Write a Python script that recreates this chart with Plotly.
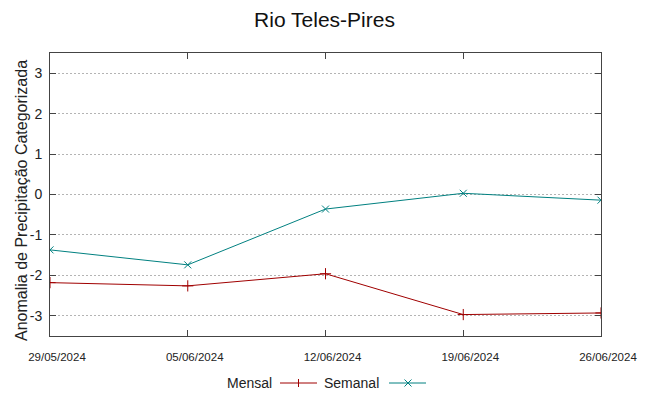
import plotly.graph_objects as go

dates = ["2024-05-29", "2024-06-05", "2024-06-12", "2024-06-19", "2024-06-26"]
mensal = [-2.18, -2.26, -1.96, -2.97, -2.93]
semanal = [-1.37, -1.74, -0.36, 0.03, -0.14]
tick_vals = ["2024-05-29", "2024-06-05", "2024-06-12", "2024-06-19", "2024-06-26"]
tick_text = ["29/05/2024", "05/06/2024", "12/06/2024", "19/06/2024", "26/06/2024"]
y_ticks = [-3, -2, -1, 0, 1, 2, 3]
y_tick_text = ["-3", "-2", "-1", "0", "1", "2", "3"]
series_names = ["Mensal", "Semanal"]

RED = "#a00000"
TEAL = "#008080"
AXIS = "#444444"
FONT = "Liberation Sans, Arial, sans-serif"

W, H = 649, 396
ML, MR, MT, MB = 50, 48, 53, 60
PW, PH = W - ML - MR, H - MT - MB


def px(x):
    return (x - ML) / PW


def py(y):
    return (H - MB - y) / PH


fig = go.Figure()
fig.add_trace(go.Scatter(
    x=dates, y=mensal, name=series_names[0], mode="lines+markers",
    line=dict(color=RED, width=1),
    marker=dict(symbol="cross-thin", size=8, line=dict(color=RED, width=1)),
))
fig.add_trace(go.Scatter(
    x=dates, y=semanal, name=series_names[1], mode="lines+markers",
    line=dict(color=TEAL, width=1),
    marker=dict(symbol="x-thin", size=7, line=dict(color=TEAL, width=1)),
))

# custom legend (text before sample, gnuplot style)
ly = 383
shapes = [
    dict(type="line", xref="paper", yref="paper", x0=px(280), x1=px(317), y0=py(ly), y1=py(ly),
         line=dict(color=RED, width=1)),
    dict(type="line", xref="paper", yref="paper", x0=px(298.5), x1=px(298.5), y0=py(ly - 4), y1=py(ly + 4),
         line=dict(color=RED, width=1)),
    dict(type="line", xref="paper", yref="paper", x0=px(389), x1=px(426), y0=py(ly), y1=py(ly),
         line=dict(color=TEAL, width=1)),
    dict(type="line", xref="paper", yref="paper", x0=px(404.5), x1=px(411.5), y0=py(ly - 3.5), y1=py(ly + 3.5),
         line=dict(color=TEAL, width=1)),
    dict(type="line", xref="paper", yref="paper", x0=px(404.5), x1=px(411.5), y0=py(ly + 3.5), y1=py(ly - 3.5),
         line=dict(color=TEAL, width=1)),
]
annotations = [
    dict(text=series_names[0], xref="paper", yref="paper", x=px(274), y=py(ly), xanchor="right",
         yanchor="middle", showarrow=False, font=dict(size=14, family=FONT, color="#222222")),
    dict(text=series_names[1], xref="paper", yref="paper", x=px(381), y=py(ly), xanchor="right",
         yanchor="middle", showarrow=False, font=dict(size=14, family=FONT, color="#222222")),
    dict(text="Anomalia de Precipitação Categorizada", xref="paper", yref="paper",
         x=px(22), y=py(201), xanchor="center", yanchor="middle", textangle=-90,
         showarrow=False, font=dict(size=16, family=FONT, color="#222222")),
]

fig.update_layout(
    width=W, height=H,
    margin=dict(l=ML, r=MR, t=MT, b=MB),
    paper_bgcolor="white", plot_bgcolor="white",
    font=dict(family=FONT, color="#222222"),
    title=dict(text="Rio Teles-Pires", x=0.5, xanchor="center", y=1 - 20 / H, yanchor="middle",
               font=dict(size=21, family=FONT, color="#111111")),
    showlegend=False,
    shapes=shapes,
    annotations=annotations,
)
fig.update_xaxes(
    type="date", range=["2024-05-29", "2024-06-26"],
    tickvals=tick_vals, ticktext=tick_text,
    tickfont=dict(size=11.5, family=FONT, color="#222222"),
    ticks="inside", ticklen=6, tickcolor=AXIS,
    showline=True, linecolor=AXIS, linewidth=1, mirror="ticks",
    showgrid=False, zeroline=False, ticklabelstandoff=10, ticklabelshift=7, automargin=False,
)
fig.update_yaxes(
    range=[-3.5, 3.5], tickvals=y_ticks, ticktext=y_tick_text,
    tickfont=dict(size=14, family=FONT, color="#222222"),
    ticks="inside", ticklen=6, tickcolor=AXIS,
    showline=True, linecolor=AXIS, linewidth=1, mirror="ticks",
    showgrid=True, gridcolor="#b4b4b4", griddash="2px,2px", gridwidth=1,
    zeroline=False, ticklabelstandoff=4, automargin=False,
)

fig.write_html("out.html", config={"displayModeBar": False},
               post_script="document.body.style.margin='0';document.body.style.overflow='hidden';")
